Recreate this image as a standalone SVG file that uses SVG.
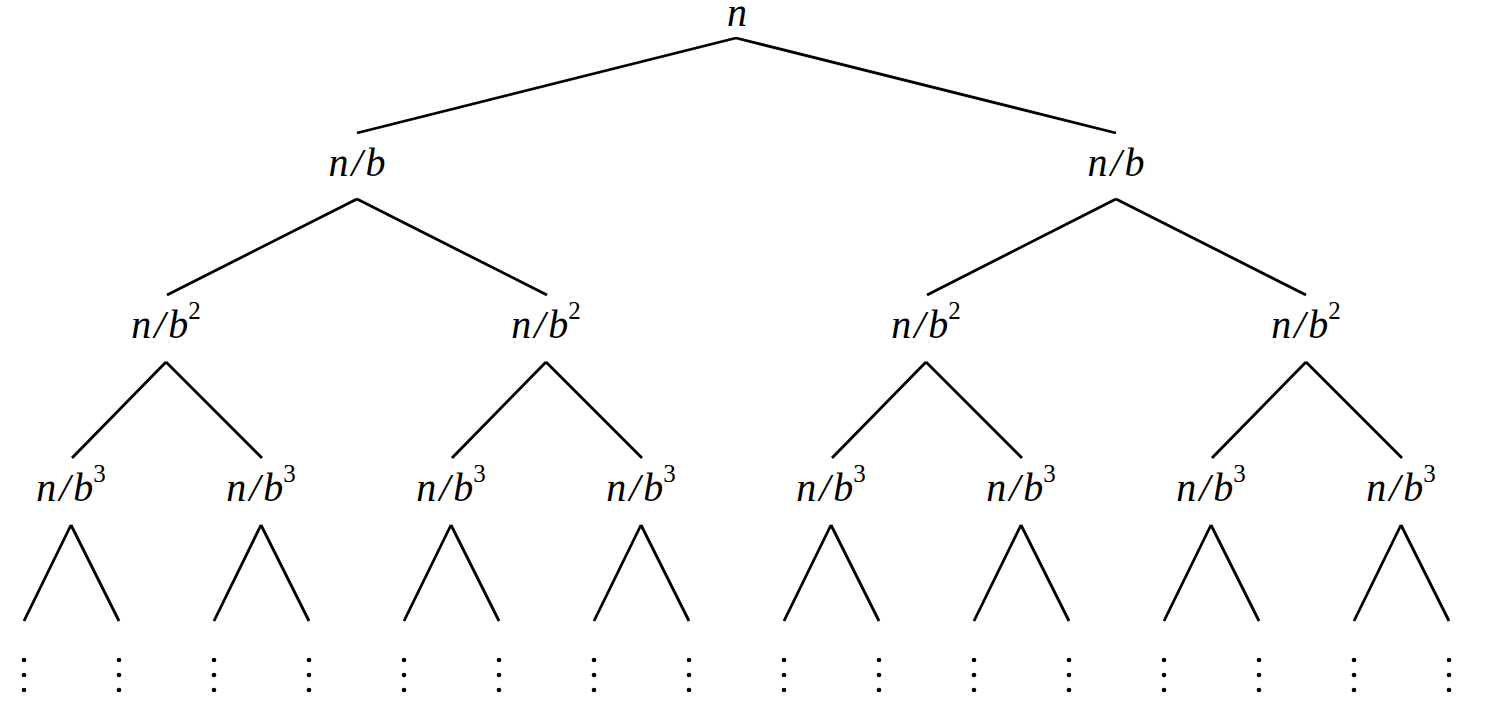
<svg xmlns="http://www.w3.org/2000/svg" width="1498" height="724" viewBox="0 0 1498 724">
<style>
.t{font-family:"Liberation Serif","DejaVu Serif",serif;font-style:italic;font-size:40px;fill:#000;text-anchor:middle;letter-spacing:3px}
.b{letter-spacing:0}
.s{font-size:25px;font-style:normal;letter-spacing:0}
.e{stroke:#000;stroke-width:2.8;fill:none;stroke-linecap:butt}
.d{fill:#000}
</style>
<rect width="1498" height="724" fill="#fff"/>
<g id="connectors" class="e">
<path d="M736,38L357,133M736,38L1116,133"/>
<path d="M357,199L167,295M357,199L547,295M1116,199L927,295M1116,199L1306,295"/>
<path d="M166,362L72,458M166,362L262,458M546,362L452,458M546,362L642,458M926,362L832,458M926,362L1022,458M1306,362L1212,458M1306,362L1402,458"/>
<path d="M71,525L24,621M71,525L119,621M261,525L214,621M261,525L309,621M451,525L404,621M451,525L499,621M641,525L594,621M641,525L689,621M831,525L784,621M831,525L879,621M1021,525L974,621M1021,525L1069,621M1211,525L1164,621M1211,525L1259,621M1401,525L1354,621M1401,525L1449,621"/>
</g>
<g id="root"><text class="t b" x="737" y="26">n</text></g>
<g id="l1a"><text class="t" x="357" y="176">n/<tspan class="b">b</tspan></text></g>
<g id="l1b"><text class="t" x="1116" y="176">n/<tspan class="b">b</tspan></text></g>
<g id="l2a"><text class="t" x="166" y="338">n/<tspan class="b">b</tspan><tspan class="s" dy="-19">2</tspan></text></g>
<g id="l2b"><text class="t" x="546" y="338">n/<tspan class="b">b</tspan><tspan class="s" dy="-19">2</tspan></text></g>
<g id="l2c"><text class="t" x="926" y="338">n/<tspan class="b">b</tspan><tspan class="s" dy="-19">2</tspan></text></g>
<g id="l2d"><text class="t" x="1306" y="338">n/<tspan class="b">b</tspan><tspan class="s" dy="-19">2</tspan></text></g>
<g id="l3a"><text class="t" x="71" y="501">n/<tspan class="b">b</tspan><tspan class="s" dy="-19">3</tspan></text></g>
<g id="l3b"><text class="t" x="261" y="501">n/<tspan class="b">b</tspan><tspan class="s" dy="-19">3</tspan></text></g>
<g id="l3c"><text class="t" x="451" y="501">n/<tspan class="b">b</tspan><tspan class="s" dy="-19">3</tspan></text></g>
<g id="l3d"><text class="t" x="641" y="501">n/<tspan class="b">b</tspan><tspan class="s" dy="-19">3</tspan></text></g>
<g id="l3e"><text class="t" x="831" y="501">n/<tspan class="b">b</tspan><tspan class="s" dy="-19">3</tspan></text></g>
<g id="l3f"><text class="t" x="1021" y="501">n/<tspan class="b">b</tspan><tspan class="s" dy="-19">3</tspan></text></g>
<g id="l3g"><text class="t" x="1211" y="501">n/<tspan class="b">b</tspan><tspan class="s" dy="-19">3</tspan></text></g>
<g id="l3h"><text class="t" x="1401" y="501">n/<tspan class="b">b</tspan><tspan class="s" dy="-19">3</tspan></text></g>
<defs><g id="vd"><circle cx="0" cy="660" r="2.3"/><circle cx="0" cy="675" r="2.3"/><circle cx="0" cy="690" r="2.3"/></g></defs>
<g id="dots" class="d">
<use href="#vd" x="24"/><use href="#vd" x="119"/><use href="#vd" x="214"/><use href="#vd" x="309"/><use href="#vd" x="404"/><use href="#vd" x="499"/><use href="#vd" x="594"/><use href="#vd" x="689"/><use href="#vd" x="784"/><use href="#vd" x="879"/><use href="#vd" x="974"/><use href="#vd" x="1069"/><use href="#vd" x="1164"/><use href="#vd" x="1259"/><use href="#vd" x="1354"/><use href="#vd" x="1449"/>
</g>
</svg>
